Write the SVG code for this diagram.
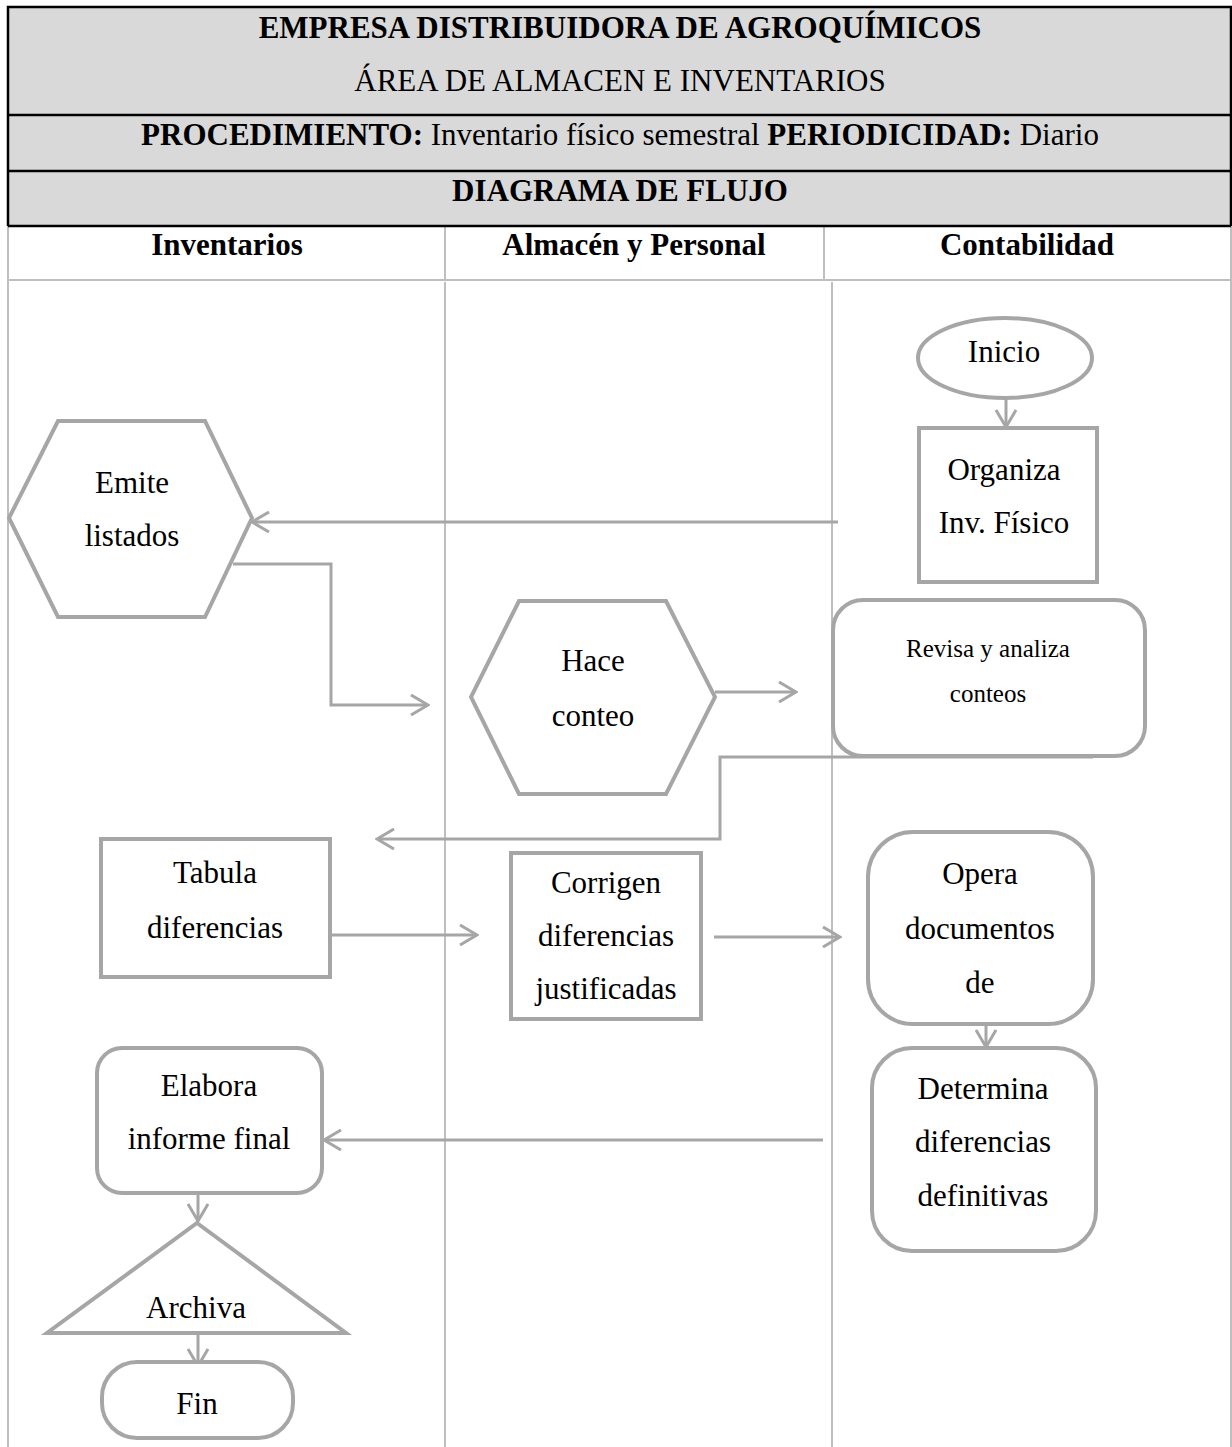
<svg xmlns="http://www.w3.org/2000/svg" width="1232" height="1447" viewBox="0 0 1232 1447">
<style>
text{font-family:"Liberation Serif","Times New Roman",serif;font-size:31px;fill:#000;text-anchor:middle}
.b{font-weight:bold}
.hdr{fill:#d9d9d9;stroke:none}
.hl{stroke:#000;stroke-width:2.5;fill:none}
.ln{stroke:#bfbfbf;stroke-width:2;fill:none}
.shape{fill:#fff;stroke:#a6a6a6;stroke-width:4}
.conn{fill:none;stroke:#a6a6a6;stroke-width:3}
.sm{font-size:25px}
</style>
<defs>
<marker id="arr" viewBox="0 0 20 22" refX="18" refY="11" markerWidth="20" markerHeight="22" markerUnits="userSpaceOnUse" orient="auto">
<path d="M1,1 L18,11 L1,21" fill="none" stroke="#a6a6a6" stroke-width="3"/>
</marker>
</defs>
<rect width="1232" height="1447" fill="#fff"/>
<g id="table">
<rect class="hdr" x="8" y="7" width="1223" height="219"/>
<line class="ln" x1="8" y1="226" x2="8" y2="1447"/>
<line class="ln" x1="1231" y1="226" x2="1231" y2="1447"/>
<line class="ln" x1="8" y1="280" x2="1231" y2="280"/>
<line class="ln" x1="445" y1="226" x2="445" y2="280"/>
<line class="ln" x1="824" y1="226" x2="824" y2="280"/>
<line class="ln" x1="445" y1="282" x2="445" y2="1447"/>
<line class="ln" x1="832" y1="282" x2="832" y2="1447"/>
<path class="hl" d="M8,226 L8,7 L1231,7 L1231,226"/>
<line class="hl" x1="8" y1="115" x2="1231" y2="115"/>
<line class="hl" x1="8" y1="171" x2="1231" y2="171"/>
<line class="hl" x1="8" y1="226" x2="1231" y2="226"/>
<text class="b" x="620" y="38">EMPRESA DISTRIBUIDORA DE AGROQUÍMICOS</text>
<text x="620" y="91">ÁREA DE ALMACEN E INVENTARIOS</text>
<text x="620" y="145"><tspan class="b">PROCEDIMIENTO:</tspan> Inventario físico semestral <tspan class="b">PERIODICIDAD:</tspan> Diario</text>
<text class="b" x="620" y="201">DIAGRAMA DE FLUJO</text>
<text class="b" x="227" y="255">Inventarios</text>
<text class="b" x="634" y="255">Almacén y Personal</text>
<text class="b" x="1027" y="255">Contabilidad</text>
</g>
<g id="connectors">
<path class="conn" d="M1006,387 L1006,427" marker-end="url(#arr)"/>
<path class="conn" d="M838,522 L252,522" marker-end="url(#arr)"/>
<path class="conn" d="M233,564 L331,564 L331,705 L428,705" marker-end="url(#arr)"/>
<path class="conn" d="M715,692 L796,692" marker-end="url(#arr)"/>
<path class="conn" d="M1093,757 L720,757 L720,839 L377,839" marker-end="url(#arr)"/>
<path class="conn" d="M331,935 L477,935" marker-end="url(#arr)"/>
<path class="conn" d="M714,937 L840,937" marker-end="url(#arr)"/>
<path class="conn" d="M986,1012 L986,1047" marker-end="url(#arr)"/>
<path class="conn" d="M823,1140 L324,1140" marker-end="url(#arr)"/>
<path class="conn" d="M198,1193 L198,1221" marker-end="url(#arr)"/>
<path class="conn" d="M198,1323 L198,1366" marker-end="url(#arr)"/>
</g>
<g id="inicio">
<ellipse class="shape" cx="1005" cy="358" rx="87" ry="40"/>
<text x="1004" y="362">Inicio</text>
</g>
<g id="organiza">
<rect class="shape" x="919" y="428" width="178" height="154"/>
<text x="1004" y="480">Organiza</text>
<text x="1004" y="533">Inv. Físico</text>
</g>
<g id="emite">
<polygon class="shape" points="58,421 205,421 252,518 205,617 58,617 9,518"/>
<text x="132" y="493">Emite</text>
<text x="132" y="546">listados</text>
</g>
<g id="hace">
<polygon class="shape" points="519,601 666,601 715,697 666,794 519,794 471,697"/>
<text x="593" y="671">Hace</text>
<text x="593" y="726">conteo</text>
</g>
<g id="revisa">
<rect class="shape" x="833" y="600" width="312" height="156" rx="30"/>
<text class="sm" x="988" y="657">Revisa y analiza</text>
<text class="sm" x="988" y="702">conteos</text>
</g>
<g id="tabula">
<rect class="shape" x="101" y="839" width="229" height="138"/>
<text x="215" y="883">Tabula</text>
<text x="215" y="938">diferencias</text>
</g>
<g id="corrigen">
<rect class="shape" x="511" y="853" width="190" height="166"/>
<text x="606" y="893">Corrigen</text>
<text x="606" y="946">diferencias</text>
<text x="606" y="999">justificadas</text>
</g>
<g id="opera">
<rect class="shape" x="868" y="832" width="225" height="192" rx="45"/>
<text x="980" y="884">Opera</text>
<text x="980" y="939">documentos</text>
<text x="980" y="993">de</text>
</g>
<g id="determina">
<rect class="shape" x="872" y="1048" width="224" height="203" rx="40"/>
<text x="983" y="1099">Determina</text>
<text x="983" y="1152">diferencias</text>
<text x="983" y="1206">definitivas</text>
</g>
<g id="elabora">
<rect class="shape" x="97" y="1048" width="225" height="145" rx="25"/>
<text x="209" y="1096">Elabora</text>
<text x="209" y="1149">informe final</text>
</g>
<g id="archiva">
<polygon class="shape" points="197,1223 346,1333 47,1333"/>
<text x="196" y="1318">Archiva</text>
</g>
<g id="fin">
<rect class="shape" x="102" y="1362" width="191" height="76" rx="35"/>
<text x="197" y="1414">Fin</text>
</g>
</svg>
